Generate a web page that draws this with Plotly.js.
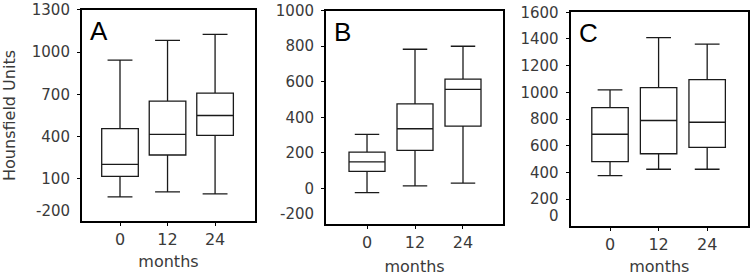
<!DOCTYPE html>
<html>
<head>
<meta charset="utf-8">
<script src="https://cdn.plot.ly/plotly-3.0.1.min.js"></script>
<style>html,body{margin:0;padding:0;background:#fff}#plot{width:750px;height:277px}</style>
</head>
<body>
<div id="plot"></div>
<script>
// ---------- data ----------
var months = ['0', '12', '24'];
var panelLabels = ['A', 'B', 'C'];

// Panel A
var aLower  = [-29, 7, -7];
var aQ1     = [117, 269, 409];
var aMedian = [202, 416, 550];
var aQ3     = [457, 652, 709];
var aUpper  = [943, 1084, 1126];
var aTicks  = [-200, 100, 400, 700, 1000, 1300];

// Panel B
var bLower  = [-23, 15, 30];
var bQ1     = [96, 214, 351];
var bMedian = [150, 336, 557];
var bQ3     = [204, 476, 615];
var bUpper  = [304, 783, 800];
var bTicks  = [-200, 0, 200, 400, 600, 800, 1000];

// Panel C
var cLower  = [376, 424, 424];
var cQ1     = [481, 540, 588];
var cMedian = [686, 789, 776];
var cQ3     = [885, 1035, 1095];
var cUpper  = [1018, 1410, 1361];
var cTicks  = [0, 200, 400, 600, 800, 1000, 1200, 1400, 1600];

var yTitle = 'Hounsfield Units';
var xTitle = 'months';

// ---------- drawing ----------
var NUM = 'DejaVu Sans, Liberation Sans, Arial, sans-serif';
var txtCol = '#3a3a3a';
var lineCol = '#1a1a1a';

function boxTrace(lo, q1, med, q3, hi, xa, ya, w) {
  return {
    type: 'box', x: months, lowerfence: lo, q1: q1, median: med, q3: q3, upperfence: hi,
    xaxis: xa, yaxis: ya, width: w, whiskerwidth: 0.68,
    fillcolor: 'rgba(0,0,0,0)', line: {color: lineCol, width: 1.3},
    boxpoints: false, hoverinfo: 'skip', showlegend: false
  };
}

var data = [
  boxTrace(aLower, aQ1, aMedian, aQ3, aUpper, 'x', 'y', 0.77),
  boxTrace(bLower, bQ1, bMedian, bQ3, bUpper, 'x2', 'y2', 0.75),
  boxTrace(cLower, cQ1, cMedian, cQ3, cUpper, 'x3', 'y3', 0.75)
];

function xAxis(dom, rng, anchor, standoff) {
  return {
    domain: dom, anchor: anchor, type: 'category', range: rng,
    showline: true, mirror: true, linewidth: 2, linecolor: '#000',
    showgrid: false, zeroline: false,
    ticks: 'outside', ticklen: 3, tickwidth: 1, tickcolor: '#000',
    tickfont: {family: NUM, size: 16, color: txtCol},
    title: {text: xTitle, font: {family: NUM, size: 16, color: txtCol}, standoff: standoff}
  };
}
function yAxis(dom, rng, anchor, ticks, fsize, title) {
  var ax = {
    domain: dom, anchor: anchor, range: rng, autorange: false,
    showline: true, mirror: true, linewidth: 2, linecolor: '#000',
    showgrid: false, zeroline: false,
    ticks: 'outside', ticklen: 3, tickwidth: 1, tickcolor: '#000',
    ticklabelstandoff: 4,
    tickmode: 'array', tickvals: ticks.slice(1), ticktext: ticks.slice(1).map(String),
    tickfont: {family: NUM, size: fsize, color: txtCol}
  };
  if (title) ax.title = {text: title, font: {family: NUM, size: 16, color: txtCol}, standoff: 14};
  return ax;
}

var layout = {
  width: 750, height: 277,
  margin: {l: 0, r: 0, t: 0, b: 0},
  paper_bgcolor: '#fff', plot_bgcolor: '#fff',
  showlegend: false,
  xaxis:  xAxis([0.1093, 0.3400], [-0.8, 2.84], 'y', 8),
  yaxis:  yAxis([0.2022, 0.9639], [-200, 1300], 'x', aTicks, 15, yTitle),
  xaxis2: xAxis([0.4347, 0.6707], [-0.854, 2.834], 'y2', 10),
  yaxis2: yAxis([0.1913, 0.9614], [-200, 1000], 'x2', bTicks, 15),
  xaxis3: xAxis([0.7609, 0.9973], [-0.81, 2.84], 'y3', 8),
  yaxis3: yAxis([0.1848, 0.9556], [0, 1600], 'x3', cTicks, 15),
  annotations: []
};

// bottom tick labels sit a little above the axis line, as in the figure
[['x', 'y', aTicks], ['x2', 'y2', bTicks], ['x3', 'y3', cTicks]].forEach(function (p, i) {
  var dom = layout[p[0] === 'x' ? 'xaxis' : 'xaxis' + p[0].slice(1)].domain;
  layout.annotations.push({
    xref: 'paper', x: dom[0], xanchor: 'right', xshift: -10,
    yref: p[1], y: p[2][0], yanchor: 'middle', yshift: 10,
    text: String(p[2][0]), showarrow: false,
    font: {family: NUM, size: 15, color: txtCol}
  });
  layout.annotations.push({
    xref: p[0] + ' domain', x: 0, xanchor: 'left', xshift: 6,
    yref: p[1] + ' domain', y: 1, yanchor: 'top', yshift: -4,
    text: panelLabels[i], showarrow: false,
    font: {family: 'Liberation Sans, Arial, sans-serif', size: 26, color: '#000'}
  });
});

Plotly.newPlot('plot', data, layout, {staticPlot: true, displayModeBar: false});
</script>
</body>
</html>
